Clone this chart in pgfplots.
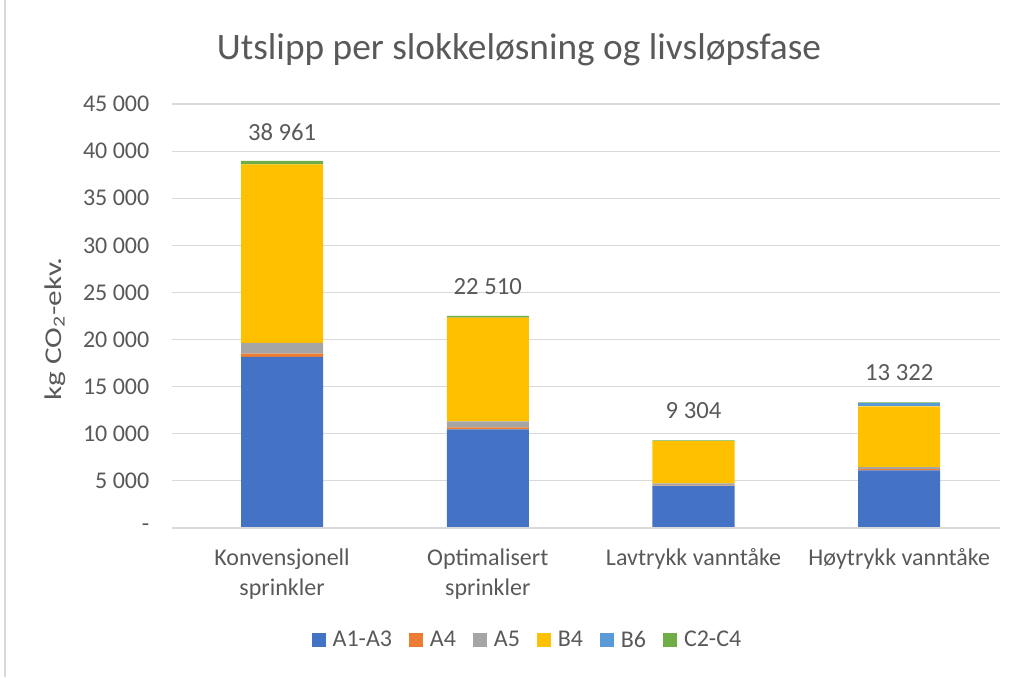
\documentclass[border=0pt]{standalone}
\usepackage{fontspec}
\setmainfont{Carlito}
\usepackage{pgfplots}
\pgfplotsset{compat=1.18}
\definecolor{cA}{HTML}{4472C4}
\definecolor{cB}{HTML}{ED7D31}
\definecolor{cC}{HTML}{A5A5A5}
\definecolor{cD}{HTML}{FFC000}
\definecolor{cE}{HTML}{5B9BD5}
\definecolor{cF}{HTML}{70AD47}
\definecolor{txt}{HTML}{595959}
\definecolor{grd}{HTML}{D9D9D9}
\begin{document}
\begin{tikzpicture}[x=0.75pt,y=0.75pt]
\path[use as bounding box] (0,0) rectangle (1019,677);
\draw[grd, line width=1.5pt] (5,0) -- (5,677);
\node[text=txt, font=\fontsize{28}{32}\selectfont] at (519,627) {Utslipp per slokkeløsning og livsløpsfase};
\node[text=txt, rotate=90, font=\fontsize{18}{20}\selectfont] at (55,348) {\scalebox{1.3}[1]{kg CO\textsubscript{2}-ekv.}};
\begin{axis}[
  at={(129pt,111.75pt)}, anchor=south west,
  scale only axis, width=621pt, height=318pt,
  ybar stacked, bar width=61.5pt,
  xmin=-0.535, xmax=3.49, ymin=0, ymax=45000,
  xtick={0,1,2,3},
  xticklabels={{Konvensjonell\\sprinkler},{Optimalisert\\sprinkler},{Lavtrykk vanntåke},{Høytrykk vanntåke}},
  xticklabel style={align=center, text=txt, font=\fontsize{18}{22.5}\selectfont, yshift=-12pt},
  ytick={0,5000,...,45000},
  yticklabels={-\hspace{1.05em},5 000,10 000,15 000,20 000,25 000,30 000,35 000,40 000,45 000},
  yticklabel style={text=txt, font=\fontsize{18}{20}\selectfont, xshift=-13.5pt},
  scaled y ticks=false,
  ymajorgrids, grid style={grd, line width=0.9pt},
  axis line style={draw=none},
  tick style={draw=none},
  legend columns=6,
  legend style={at={(0.43,-0.264)}, anchor=center, draw=none, fill=none,
    font=\fontsize{18}{20}\selectfont, text=txt,
    /tikz/every odd column/.append style={column sep=3pt},
    /tikz/every even column/.append style={column sep=11pt}},
  legend image code/.code={\fill[#1] (0pt,-5.2pt) rectangle (10.4pt,5.2pt);},
  nodes near coords style={text=txt, font=\fontsize{18.5}{20}\selectfont, anchor=center, yshift=23pt},
]
\draw[grd, line width=0.9pt] (axis cs:-0.535,0) -- (axis cs:3.49,0);
\addplot[fill=cA, draw=none] coordinates {(0,18150) (1,10480) (2,4450) (3,6120)};
\addlegendentry{A1-A3}
\addplot[fill=cB, draw=none] coordinates {(0,350) (1,200) (2,60) (3,140)};
\addlegendentry{A4}
\addplot[fill=cC, draw=none] coordinates {(0,1150) (1,640) (2,220) (3,210)};
\addlegendentry{A5}
\addplot[fill=cD, draw=none] coordinates {(0,18950) (1,11010) (2,4480) (3,6450)};
\addlegendentry{B4}
\addplot[fill=cE, draw=none] coordinates {(0,0) (1,0) (2,0) (3,300)};
\addlegendentry{B6}
\addplot[fill=cF, draw=none, nodes near coords, point meta=explicit symbolic] coordinates {(0,361) [38 961] (1,180) [22 510] (2,94) [9 304] (3,102) [13 322]};
\addlegendentry{C2-C4}
\end{axis}
\end{tikzpicture}
\end{document}
